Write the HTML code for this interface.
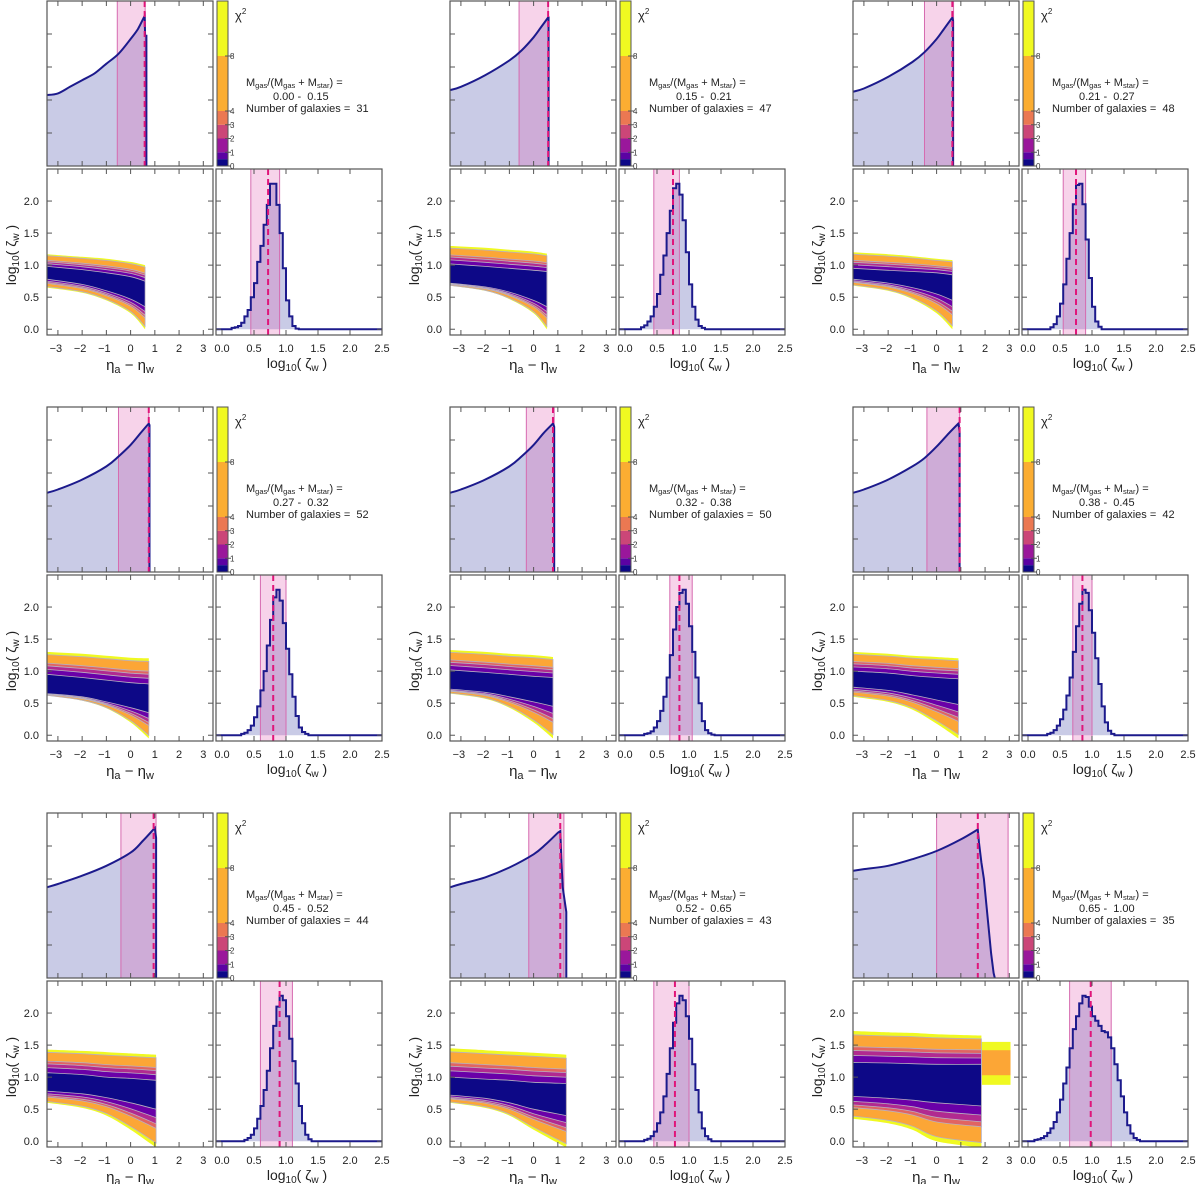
<!DOCTYPE html>
<html><head><meta charset="utf-8"><style>
html,body{margin:0;padding:0;background:#fff;}
svg{display:block;font-family:"Liberation Sans",sans-serif;}
text{white-space:pre;}
</style></head><body>
<svg id="fig" width="1200" height="1184" viewBox="0 0 1200 1184" xmlns="http://www.w3.org/2000/svg"></svg>
<script>
// ---- data ----
const ranges = ["0.00 -  0.15","0.15 -  0.21","0.21 -  0.27","0.27 -  0.32","0.32 -  0.38","0.38 -  0.45","0.45 -  0.52","0.52 -  0.65","0.65 -  1.00"];
const nGal = [31,47,48,52,50,42,44,43,35];
// eta marginal (normalized height 0..1)
const etaX = [
 [-3.45,-3,-2.5,-2,-1.5,-1,-0.5,0,0.3,0.58,0.6,0.65,0.65],
 [-3.45,-3,-2,-1,-0.5,0,0.3,0.6,0.62,0.62],
 [-3.45,-3,-2,-1,-0.5,0,0.3,0.65,0.68,0.68],
 [-3.45,-3,-2,-1,-0.5,0,0.4,0.75,0.78,0.78],
 [-3.45,-3,-2,-1,-0.5,0,0.4,0.8,0.85,0.85],
 [-3.45,-3,-2,-1,-0.5,0,0.5,0.9,0.95,0.95],
 [-3.45,-3,-2,-1,0,0.5,1.0,1.05,1.05],
 [-3.45,-3,-2,-1,0,0.5,1.0,1.1,1.15,1.2,1.25,1.3,1.35,1.35],
 [-3.45,-3,-2,-1,0,1,1.7,1.75,1.85,1.95,2.05,2.15,2.25,2.35,2.4]
];
const etaY = [
 [.43,.44,.48,.52,.56,.62,.68,.77,.83,.91,.79,.79,0],
 [.46,.48,.55,.64,.7,.78,.84,.9,.9,0],
 [.45,.47,.54,.63,.69,.77,.83,.9,.88,0],
 [.48,.5,.56,.64,.7,.77,.84,.9,.89,0],
 [.48,.5,.56,.64,.7,.77,.84,.9,.88,0],
 [.48,.5,.56,.64,.69,.76,.84,.9,.85,0],
 [.55,.57,.62,.68,.76,.83,.91,.85,0],
 [.55,.57,.61,.67,.75,.81,.88,.89,.7,.55,.5,.45,.4,0],
 [.65,.66,.68,.72,.77,.84,.9,.82,.7,.6,.45,.3,.15,.03,0]
];
const etaBandLo = [-0.55,-0.6,-0.5,-0.5,-0.3,-0.4,-0.4,-0.2,0];
const etaBandHi = [0.6,0.6,0.7,0.75,0.85,0.95,1.05,1.25,2.95];
const etaBest = [0.58,0.6,0.65,0.75,0.8,0.95,0.95,1.1,1.7];
// contour envelopes at x = [-3.45,-2,-1,0,xmax]
const ctXmax = [0.6,0.55,0.65,0.75,0.8,0.9,1.05,1.35,1.85];
const yelTop = [[1.17,1.13,1.1,1.05,1.0],[1.3,1.27,1.24,1.21,1.18],[1.2,1.17,1.14,1.1,1.08],[1.3,1.27,1.24,1.21,1.2],[1.33,1.3,1.27,1.25,1.22],[1.3,1.27,1.24,1.22,1.2],[1.43,1.41,1.39,1.37,1.35],[1.45,1.42,1.4,1.38,1.35],[1.72,1.7,1.69,1.67,1.65]];
const yelBot = [[0.65,0.57,0.45,0.25,0.0],[0.68,0.6,0.47,0.25,0.0],[0.68,0.6,0.47,0.25,0.0],[0.62,0.54,0.42,0.2,-0.05],[0.65,0.57,0.43,0.2,-0.05],[0.6,0.52,0.4,0.18,-0.05],[0.6,0.52,0.4,0.18,-0.1],[0.6,0.52,0.4,0.18,-0.1],[0.35,0.28,0.18,0.0,-0.1]];
const navTop = [[0.98,0.93,0.88,0.82,0.75],[1.02,0.98,0.95,0.92,0.9],[0.95,0.92,0.9,0.88,0.85],[0.95,0.9,0.86,0.82,0.8],[1.02,0.98,0.95,0.92,0.9],[1.0,0.97,0.93,0.9,0.88],[1.07,1.04,1.0,0.98,0.95],[1.0,0.97,0.95,0.92,0.9],[1.23,1.22,1.21,1.2,1.2]];
const navBot = [[0.78,0.7,0.6,0.47,0.35],[0.72,0.66,0.58,0.45,0.35],[0.78,0.72,0.65,0.55,0.45],[0.65,0.6,0.52,0.43,0.35],[0.72,0.67,0.6,0.52,0.45],[0.75,0.7,0.63,0.55,0.48],[0.78,0.74,0.68,0.6,0.5],[0.72,0.67,0.6,0.5,0.4],[0.7,0.67,0.64,0.6,0.55]];
// zeta marginal: bins of 0.05 starting at zetaStart
const zetaStart = [0.15,0.25,0.35,0.3,0.3,0.3,0.35,0.3,0.1];
const zetaVals = [
 [0.02,0.03,0.05,0.1,0.2,0.3,0.5,0.72,1.05,1.3,1.63,1.94,2.27,2.27,1.94,1.5,0.95,0.45,0.2,0.05,0.01],
 [0.03,0.06,0.12,0.2,0.35,0.55,0.85,1.15,1.5,1.85,2.2,2.27,2.1,1.7,1.2,0.7,0.35,0.15,0.05,0.02],
 [0.03,0.08,0.2,0.4,0.7,1.1,1.5,1.95,2.25,2.27,1.95,1.4,0.8,0.35,0.12,0.04],
 [0.02,0.04,0.08,0.15,0.28,0.45,0.7,1.0,1.4,1.8,2.15,2.27,2.1,1.75,1.35,0.95,0.6,0.3,0.12,0.05,0.02],
 [0.02,0.03,0.06,0.12,0.22,0.38,0.6,0.9,1.25,1.65,2.0,2.22,2.27,2.05,1.7,1.3,0.9,0.5,0.22,0.08,0.03,0.01],
 [0.02,0.04,0.08,0.15,0.25,0.4,0.62,0.9,1.3,1.7,2.05,2.27,2.22,1.95,1.6,1.2,0.8,0.45,0.2,0.07,0.02],
 [0.02,0.05,0.1,0.2,0.35,0.55,0.8,1.1,1.45,1.8,2.1,2.27,2.2,1.95,1.6,1.25,0.9,0.55,0.28,0.1,0.03],
 [0.02,0.04,0.08,0.15,0.28,0.45,0.7,1.05,1.45,1.85,2.15,2.27,2.2,1.95,1.6,1.2,0.8,0.45,0.2,0.08,0.03],
 [0.02,0.03,0.05,0.08,0.13,0.2,0.3,0.45,0.65,0.9,1.15,1.45,1.75,1.95,2.15,2.27,2.25,2.1,1.95,1.88,1.8,1.72,1.7,1.62,1.45,1.2,0.95,0.7,0.45,0.25,0.12,0.05,0.02]
];
const zetaBandLo = [0.45,0.45,0.55,0.6,0.7,0.7,0.6,0.45,0.65];
const zetaBandHi = [0.9,0.85,0.9,1.0,1.05,1.0,1.1,1.0,1.3];
const zetaBest = [0.72,0.75,0.75,0.8,0.85,0.85,0.9,0.78,0.98];
const xTicks = [-3,-2,-1,0,1,2,3];
const yTicks = [0,0.5,1,1.5,2];
const zTicks = [0,0.5,1,1.5,2,2.5];
const cbTicks = [0,1,2,3,4,8];
// ---- drawing ----
const NS="http://www.w3.org/2000/svg";
const svg=document.getElementById('fig');
const colX=[0,403,806], rowY=[0,406,812];
function mk(tag,attrs,parent){const e=document.createElementNS(NS,tag);for(const k in attrs)e.setAttribute(k,attrs[k]);(parent||svg).appendChild(e);return e;}
// smooth path through points (catmull-rom where spacing is wide, straight otherwise)
function smooth(pts,start){
  let d=start?('M'+pts[0][0].toFixed(1)+','+pts[0][1].toFixed(1)):(' L'+pts[0][0].toFixed(1)+','+pts[0][1].toFixed(1));
  const wide=i=>i>=0&&i<pts.length-1&&Math.abs(pts[i+1][0]-pts[i][0])>4;
  for(let i=0;i<pts.length-1;i++){
    const p1=pts[i],p2=pts[i+1];
    if(wide(i)){
      const p0=wide(i-1)?pts[i-1]:p1, p3=wide(i+1)?pts[i+2]:p2;
      const c1=[p1[0]+(p2[0]-p0[0])/6,p1[1]+(p2[1]-p0[1])/6];
      const c2=[p2[0]-(p3[0]-p1[0])/6,p2[1]-(p3[1]-p1[1])/6];
      d+=' C'+c1[0].toFixed(1)+','+c1[1].toFixed(1)+' '+c2[0].toFixed(1)+','+c2[1].toFixed(1)+' '+p2[0].toFixed(1)+','+p2[1].toFixed(1);
    } else d+=' L'+p2[0].toFixed(1)+','+p2[1].toFixed(1);
  }
  return d;
}
const EX0=-3.45,EX1=3.4,YV0=-0.09,YV1=2.5;
const levels=[["#f0f921",0],["#fca636",0.12],["#e16462",0.5],["#b12a90",0.62],["#6a00a8",0.78],["#0d0887",1]];
const cbBands=[[0,0.5,"#0d0887"],[0.5,1,"#5b02a3"],[1,2,"#9a179b"],[2,3,"#cb4678"],[3,4,"#eb7852"],[4,8,"#fbad32"],[8,12,"#f0f921"]];

for(let p=0;p<9;p++){
  const ox=colX[p%3], oy=rowY[Math.floor(p/3)];
  const g=mk('g',{});
  
  
  const L=ox+47,R=ox+213, T1=oy+1,B1=oy+166, T2=oy+169,B2=oy+335, L3=ox+216,R3=ox+382;
  const ex=v=>L+(v-EX0)/(EX1-EX0)*(R-L);
  const yv=v=>B2-(v-YV0)/(YV1-YV0)*(B2-T2);
  const zx=v=>L3+(v-(-0.094))/(2.5+0.094)*(R3-L3);
  const hy=v=>B1-v*(B1-T1);
  // ---- eta marginal ----
  const gt=mk('g',{},g);
  
  
  const epts=etaX[p].map((x,i)=>[ex(x),hy(etaY[p][i])]);
  const d='M'+ex(etaX[p][0])+','+B1+smooth(epts,false)+' Z';
  const ef=mk('path',{d:d,fill:'#c9cbe6',stroke:'none'},gt);
  
  
  const eb=mk('rect',{x:ex(etaBandLo[p]),y:T1,width:ex(etaBandHi[p])-ex(etaBandLo[p]),height:B1-T1,fill:'rgba(225,80,170,0.25)',stroke:'#d66bb0','stroke-width':1},gt);
  
  
  const el=mk('path',{d:smooth(epts,true),fill:'none',stroke:'#1c1a8c','stroke-width':2},gt);
  
  
  const ed=mk('line',{x1:ex(etaBest[p]),x2:ex(etaBest[p]),y1:T1,y2:B1,stroke:'#e0157a','stroke-width':2,'stroke-dasharray':'6,4'},gt);
  
  
  // ---- contour ----
  const gc=mk('g',{},g);
  
  
  const cx=[-3.45,-2,-1,0,ctXmax[p]];
  if(p===8){
    const r1=mk('rect',{x:ex(1.85),y:yv(1.55),width:ex(3.05)-ex(1.85),height:yv(0.88)-yv(1.55),fill:'#f0f921'},gc);
    
    
    const r2=mk('rect',{x:ex(1.85),y:yv(1.42),width:ex(3.05)-ex(1.85),height:yv(1.03)-yv(1.42),fill:'#fca636'},gc);
    
    
  }
  levels.forEach(([col,f],li)=>{
    const top=cx.map((x,i)=>[ex(x),yv(yelTop[p][i]+(navTop[p][i]-yelTop[p][i])*f)]);
    const bot=cx.map((x,i)=>[ex(x),yv(yelBot[p][i]+(navBot[p][i]-yelBot[p][i])*f)]).reverse();
    const pd=smooth(top,true)+smooth(bot,false)+' Z';
    const pe=mk('path',{d:pd,fill:col,stroke:li?'#b8b0c0':'none','stroke-width':0.8},gc);
    
    
  });
  // ---- zeta marginal ----
  const gz=mk('g',{},g);
  
  
  let zd='M'+zx(-0.094)+','+yv(0);
  let x0=zetaStart[p];
  zd+=' L'+zx(x0).toFixed(1)+','+yv(0).toFixed(1);
  zetaVals[p].forEach((v,i)=>{const a=zx(x0+i*0.05),b=zx(x0+(i+1)*0.05);zd+=' L'+a.toFixed(1)+','+yv(v).toFixed(1)+' L'+b.toFixed(1)+','+yv(v).toFixed(1);});
  const xe=x0+zetaVals[p].length*0.05;
  zd+=' L'+zx(xe).toFixed(1)+','+yv(0).toFixed(1)+' L'+zx(2.5)+','+yv(0);
  const zf=mk('path',{d:zd+' Z',fill:'#c9cbe6',stroke:'none'},gz);
  
  
  const zb=mk('rect',{x:zx(zetaBandLo[p]),y:T2,width:zx(zetaBandHi[p])-zx(zetaBandLo[p]),height:B2-T2,fill:'rgba(225,80,170,0.25)',stroke:'#d66bb0','stroke-width':1},gz);
  
  
  const zl=mk('path',{d:zd,fill:'none',stroke:'#1c1a8c','stroke-width':2},gz);
  
  
  const zdsh=mk('line',{x1:zx(zetaBest[p]),x2:zx(zetaBest[p]),y1:T2,y2:B2,stroke:'#e0157a','stroke-width':2,'stroke-dasharray':'6,4'},gz);
  
  
  // ---- frames & ticks ----
  [[L,T1,R,B1,'eta-frame'],[L,T2,R,B2,'contour-frame'],[L3,T2,R3,B2,'zeta-frame']].forEach(([a,b,c,e,n])=>{
    const fr=mk('rect',{x:a,y:b,width:c-a,height:e-b,fill:'none',stroke:'#555','stroke-width':1.2},g);
    
    
  });
  const tk=mk('g',{stroke:'#555','stroke-width':1},g);
  
  
  xTicks.forEach(t=>{const X=ex(t);
    mk('line',{x1:X,x2:X,y1:T1,y2:T1+5},tk);mk('line',{x1:X,x2:X,y1:B1,y2:B1-5},tk);
    mk('line',{x1:X,x2:X,y1:T2,y2:T2+5},tk);mk('line',{x1:X,x2:X,y1:B2,y2:B2-5},tk);
    const tl=mk('text',{x:X-(t<0?2:0),y:oy+352,'text-anchor':'middle','font-size':11,fill:'#222'},g);
    tl.textContent=(t<0?'\u2212'+(-t):''+t);
    
    
  });
  [0.2,0.4,0.6,0.8].forEach(f=>{const Y=hy(f);mk('line',{x1:L,x2:L+5,y1:Y,y2:Y},tk);mk('line',{x1:R,x2:R-5,y1:Y,y2:Y},tk);});
  yTicks.forEach(t=>{const Y=yv(t);
    mk('line',{x1:L,x2:L+5,y1:Y,y2:Y},tk);mk('line',{x1:R,x2:R-5,y1:Y,y2:Y},tk);
    mk('line',{x1:L3,x2:L3+5,y1:Y,y2:Y},tk);mk('line',{x1:R3,x2:R3-5,y1:Y,y2:Y},tk);
    const tl=mk('text',{x:L-8,y:Y+4,'text-anchor':'end','font-size':11,fill:'#222'},g);
    tl.textContent=t.toFixed(1);
    
    
  });
  zTicks.forEach(t=>{const X=zx(t);
    mk('line',{x1:X,x2:X,y1:T2,y2:T2+5},tk);mk('line',{x1:X,x2:X,y1:B2,y2:B2-5},tk);
    const tl=mk('text',{x:X,y:oy+352,'text-anchor':'middle','font-size':11,fill:'#222'},g);
    tl.textContent=t.toFixed(1);
    
    
  });
  // axis titles
  const xt=mk('text',{x:ox+130,y:oy+370,'text-anchor':'middle','font-size':15,fill:'#222'},g);
  xt.innerHTML='\u03B7<tspan font-size="11" dy="3">a</tspan><tspan dy="-3"> \u2212 \u03B7</tspan><tspan font-size="11" dy="3">w</tspan>';
  
  
  const zt=mk('text',{x:ox+297,y:oy+368,'text-anchor':'middle','font-size':14,fill:'#222'},g);
  zt.innerHTML='log<tspan font-size="10" dy="3">10</tspan><tspan dy="-3">( \u03B6</tspan><tspan font-size="10" dy="3">w</tspan><tspan dy="-3"> )</tspan>';
  
  
  const yt=mk('text',{x:0,y:0,'text-anchor':'middle','font-size':14,fill:'#222',transform:'translate('+(ox+16)+','+(oy+255)+') rotate(-90)'},g);
  yt.innerHTML='log<tspan font-size="10" dy="3">10</tspan><tspan dy="-3">( \u03B6</tspan><tspan font-size="10" dy="3">w</tspan><tspan dy="-3"> )</tspan>';
  
  
  // ---- colorbar ----
  const gb=mk('g',{},g);
  
  
  const CL=ox+217,CR=ox+228,CB=oy+166,CT=oy+1;
  const cy=v=>CB-v/12*(CB-CT);
  cbBands.forEach(([a,b,c])=>{const r=mk('rect',{x:CL,y:cy(b),width:CR-CL,height:cy(a)-cy(b),fill:c},gb);
    
    });
  mk('rect',{x:CL,y:CT,width:CR-CL,height:CB-CT,fill:'none',stroke:'#555','stroke-width':1},gb);
  cbTicks.forEach(t=>{const Y=cy(t);mk('line',{x1:CR-3,x2:CR+3,y1:Y,y2:Y,stroke:'#555'},gb);
    const tl=mk('text',{x:CR+2,y:Y+3,'font-size':8,fill:'#333'},gb);tl.textContent=t;
    
    });
  const ch=mk('text',{x:ox+235,y:oy+20,'font-size':13,fill:'#222'},gb);
  ch.innerHTML='\u03C7<tspan font-size="8" dy="-6">2</tspan>';
  
  
  // ---- annotation ----
  const a1=mk('text',{x:ox+246,y:oy+86,'font-size':11,fill:'#222'},g);
  a1.innerHTML='M<tspan font-size="7.5" dy="2">gas</tspan><tspan dy="-2">/(M</tspan><tspan font-size="7.5" dy="2">gas</tspan><tspan dy="-2"> + M</tspan><tspan font-size="7.5" dy="2">star</tspan><tspan dy="-2">) =</tspan>';
  
  
  const a2=mk('text',{x:ox+273,y:oy+100,'font-size':11,fill:'#222'},g);
  a2.textContent=ranges[p];
  
  
  const a3=mk('text',{x:ox+246,y:oy+112,'font-size':11,fill:'#222'},g);
  a3.textContent='Number of galaxies =  '+nGal[p];
  
  
}
</script>
</body></html>
